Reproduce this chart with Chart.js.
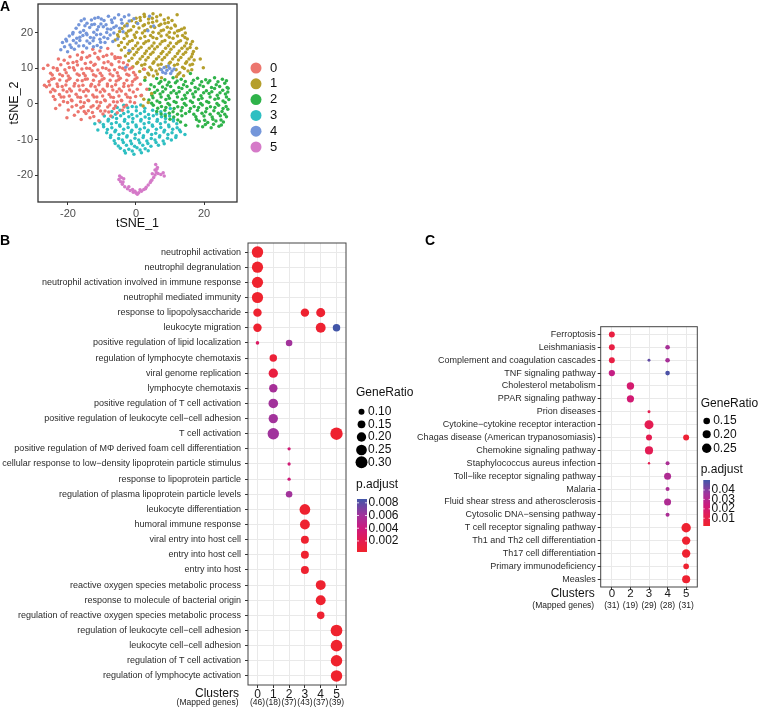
<!DOCTYPE html>
<html>
<head>
<meta charset="utf-8">
<script src="https://cdn.jsdelivr.net/npm/chart.js@4.4.1/dist/chart.umd.min.js"></script>
<style>
  html, body { margin: 0; padding: 0; background: #fff; width: 758px; height: 711px; overflow: hidden; position: relative; }
  canvas { position: absolute; }
</style>
</head>
<body>
<canvas id="tsne" width="300" height="232" style="left:0;top:0"></canvas>
<canvas id="goPlot" width="420" height="479" style="left:0;top:232px"></canvas>
<canvas id="keggPlot" width="348" height="479" style="left:410px;top:232px"></canvas>
<script>
// ---------- A: tSNE, points, one string per cluster ----------
const tsneGroups = ['0', '1', '2', '3', '4', '5'];
const tsneXTicks = [-20, 0, 20];
const tsneYTicks = [-20, -10, 0, 10, 20];
const tsne0 = `-17.2,13.7 -14.4,13.1 -12.1,14.2 -9.6,13.3 -7.1,14 -5.3,13 -15.7,14.5 -10.6,14.8 -19.4,13.2
-21.1,12.2 -18.5,11.6 -16.1,12.5 -13.3,11.7 -10.9,12.6 -8.2,11.8 -6.1,12.7 -3.7,11.5 -4.6,12.9
-24.3,10.1 -22.1,11 -19.6,10.2 -17.2,10.9 -14.5,10 -12.4,10.8 -9.8,10.1 -7.1,11 -4.8,10.3 -2.5,10.9 -1.2,10.1
-25.1,8.6 -23.1,9.4 -20.5,8.7 -18.1,9.5 -15.4,8.5 -12.9,9.3 -10.5,8.6 -7.9,9.4 -5.5,8.7 -3.2,9.5 -0.7,8.8
-24.1,7.1 -21.6,7.9 -19.4,7.2 -16.7,8 -14.3,7 -11.8,7.8 -9.4,7.1 -6.8,7.9 -4.6,7.2 -2.1,8 0.3,7.3
-25.6,6.3 -23.2,5.6 -20.4,6.4 -18,5.7 -15.8,6.5 -13.1,5.5 -10.7,6.3 -8.4,5.6 -5.8,6.4 -3.5,5.7 -1,6.3 1.3,5.5
-26.3,4.8 -24.4,4.1 -21.7,4.9 -19.5,4.2 -16.8,5 -14.6,4 -12,4.8 -9.7,4.1 -7.1,4.9 -4.9,4.2 -2.2,5
-25.1,3.3 -22.5,2.6 -20.3,3.4 -17.6,2.7 -15.4,3.5 -12.7,2.5 -10.5,3.3 -7.9,2.6 -5.6,3.4 -3,2.7 -0.8,3.3 1.6,2.4
-23.8,1.2 -21.2,1.9 -19,1.1 -16.3,1.8 -14.1,1 -11.5,1.9 -9.2,1.1 -6.6,1.8 -4.3,1 -1.7,1.7
-22.4,-0.3 -20.1,0.4 -17.5,-0.4 -15.2,0.3 -12.6,-0.5 -10.4,0.4 -7.7,-0.3 -5.5,0.5 -2.8,-0.4 -0.4,0.3
-19.9,-1.7 -16.2,-1.1 -14,-1.9 -11.3,-1.2 -9.1,-2 -6.5,-1.3 -4,-1.8
-18.1,-3.2 -14.7,-2.7 -12.4,-3.5 -9.7,-2.8 -7.4,-3.4 -16.1,-4.4 -10.9,-4.7
-27.2,9.9 -26.9,5.2 -23.6,-1.3 -20.3,-3.9 -12.7,15.3 -8.3,15.5 2.5,9.7 3.2,4.1 -22.8,12.6 -25.9,10.8
-16,12.9 -13.6,13.5 -11.2,13 -8.6,13.6 -6.2,13.2 -20,11.4 -17.4,11.9 -14.9,11.3 -12,11.1 -9.4,11.5 -7.3,11.2 -5,11.8
-23.2,9.9 -20.9,9.6 -18.4,10.1 -15.9,9.8 -13.6,9.9 -11.2,9.5 -8.8,9.9 -6.3,9.6 -3.9,10 -1.9,9.8
-24.6,8.1 -22.4,8.3 -19.9,7.8 -17.3,8.4 -14.9,7.9 -12.5,8.2 -10,7.9 -7.6,8.4 -5.2,7.8 -2.7,8.3 -0.2,8.1
-24.8,6.9 -22.4,6.7 -19.7,6.9 -17.2,6.6 -14.9,6.9 -12.5,6.6 -10,6.8 -7.6,6.6 -5.1,6.8 -2.7,6.6 -0.3,6.9
-25.4,5.3 -23,4.9 -20.6,5.3 -18.2,5 -15.6,5.2 -13.3,5 -10.9,5.4 -8.4,5 -6,5.4 -3.6,4.9 -1.2,5.3
-23.8,3.7 -21.4,3.9 -19,3.6 -16.5,3.9 -14,3.6 -11.6,3.9 -9.2,3.6 -6.8,3.9 -4.3,3.6 -1.9,3.9 0.4,4.1
-24.3,2.1 -22,1.9 -19.6,2.2 -17.1,1.9 -14.7,2.2 -12.3,1.9 -9.8,2.2 -7.4,1.9 -5,2.2 -2.5,1.9 -0.1,2.1
-21.3,0.7 -18.8,0.9 -16.3,0.6 -13.9,0.9 -11.5,0.6 -9,0.9 -6.6,0.6 -4.2,0.9 -1.7,0.6
-18.8,-0.8 -15.5,-0.7 -13.2,-0.9 -10.8,-0.6 -8.3,-0.9 -6,-0.6 -3.5,-0.9
-17,-2.2 -15.2,-2.1 -12.8,-2.4 -10.4,-2 -8,-2.3 -5.5,-2.5 -13.5,-3.9`;
const tsne1 = `1.2,24.2 3.7,23.8 6.1,24.4 8.3,23.6 2.4,25.1 5,25.3
-2.6,22.4 0.1,22.8 2.5,22.2 4.9,22.9 7.3,22.3 9.5,22.8 11.4,22.1
-4.1,21.1 -1.5,20.7 0.9,21.3 3.3,20.8 5.5,21.4 8.1,20.7 10.3,21.2 12.7,20.6
-5.4,19.4 -2.9,19.8 -0.5,19.3 1.9,19.9 4.3,19.2 6.7,19.8 9.1,19.3 11.3,19.9 13.7,19.2
-6.1,17.9 -3.5,18.3 -1.1,17.8 1.3,18.4 3.7,17.7 6.1,18.3 8.5,17.8 10.9,18.4 13.1,17.7 15.1,18.2
-5.1,16.4 -2.5,16.8 -0.1,16.3 2.3,16.9 4.7,16.2 7.1,16.8 9.5,16.3 11.9,16.9 14.3,16.2 16.1,16.7
-4.3,15.1 -1.7,14.7 0.7,15.3 3.1,14.8 5.5,15.4 7.9,14.7 10.3,15.3 12.7,14.8 15.1,15.4 16.9,14.7
-3.1,13.4 -0.5,13.8 1.9,13.3 4.3,13.9 6.7,13.2 9.1,13.8 11.5,13.3 13.9,13.9 16.3,13.2
-2.1,12.1 0.5,11.7 2.9,12.3 5.3,11.8 7.7,12.4 10.1,11.7 12.5,12.3 14.9,11.8 17.1,12.3
-0.9,10.4 1.7,10.8 4.1,10.3 6.5,10.9 8.9,10.4 11.3,10.8 13.7,10.3 15.9,10.9
1.1,9.1 3.5,8.6 5.9,9.2 12.9,8.7 15.3,9.2
2.7,7.4 5.1,7.8 7.5,7.3 11.9,7.6
2.3,1.3 3.6,0.4 2.1,-0.6 4.6,2.9 1.5,2.3 19.8,10.1 18.9,12.6 12.1,25 14.2,21.3 17.8,15.6
0,24 2.5,24.5 4.8,24 7.2,24.9 9.5,24.1 -1.3,23.3 1.3,23.4 3.7,22.7 6.1,23.2 8.5,22.6 10.6,23.4
-3.3,21.8 -0.7,21.7 2.1,21.9 4.4,21.6 6.8,22 9.2,21.5 11.6,21.8 13.4,20.9
-4.8,20.3 -2.2,20.4 0.2,20.1 2.6,20.5 5,20.1 7.4,20.5 9.8,20.1 12.2,20.4 14.5,19.9
-5.2,18.8 -2.6,19 -0.2,18.6 2.6,18.9 5,18.6 7.4,19 9.8,18.7 12.2,19 14.4,18.6
-4.3,17.2 -1.9,17.5 0.5,17.1 2.9,17.4 5.3,17.1 7.7,17.5 10.1,17.1 12.5,17.4 14.8,17.1 16.6,17.5
-3.3,15.8 -0.9,15.5 1.5,15.9 3.9,15.6 6.3,16 8.7,15.6 11.1,16 13.5,15.6 15.9,15.8
-2.2,14.2 0.2,14.5 2.6,14.1 5,14.5 7.4,14.1 9.8,14.5 12.2,14.1 14.6,14.5 16.6,14
-1.2,12.8 1.2,12.6 3.6,13 6,12.6 8.4,13 10.8,12.6 13.2,13 15.6,12.6
0.2,11.3 2.6,11.1 5,11.4 7.4,11.1 9.8,11.4 12.2,11.1 14.6,11.4 16.6,11.1
2.2,9.8 4.6,9.6 7,9.8 11.8,9.6 14.2,9.9 16.4,9.6 3.8,8.2 6.3,8.4 12.4,8.3 14,7.9`;
const tsne2 = `6.1,7.1 8.5,6.8 10.9,7.3 13.3,6.9 18.1,7.2 20.5,6.8 23.1,7.3 25.4,6.9 16,8.5
4.4,5.4 6.8,5.8 9.2,5.3 11.6,5.9 14,5.4 16.4,5.8 18.8,5.3 21.2,5.9 23.6,5.4 26.1,5.8
3.9,4.1 6.3,3.8 8.7,4.2 11.1,3.7 13.5,4.3 15.9,3.8 18.3,4.2 20.7,3.7 23.1,4.3 25.5,3.8 27.1,4.4
4.7,2.4 7.1,2.8 9.5,2.3 11.9,2.9 14.3,2.4 16.7,2.8 19.1,2.3 21.5,2.9 23.9,2.4 26.3,2.8
3.8,1.1 6.2,0.8 8.8,1.2 11.2,0.7 13.6,1.3 16,0.8 18.4,1.2 20.8,0.7 23.2,1.3 25.6,0.8 27.3,1.2
5.1,-0.4 7.5,-0.7 9.9,-0.3 12.3,-0.8 14.7,-0.4 17.1,-0.7 19.5,-0.3 21.9,-0.8 24.3,-0.4 26.5,-0.7
6.1,-2.1 8.5,-1.8 10.9,-2.2 13.3,-1.9 15.7,-2.1 18.1,-1.8 20.5,-2.2 22.9,-1.9 25.3,-2.1
8.6,-3.4 11.1,-3.7 13.5,-3.3 17.6,-3.6 20,-3.4 22.4,-3.7 24.8,-3.3 26.6,-3.6
13.1,-5.1 18.6,-4.9 21.1,-5.2 23.5,-4.8 25.7,-5.1
19.6,-6.4 22.1,-6.7 24.4,-6.3 14.6,-6 2.6,6.6
7.3,6.3 9.7,6.1 12.1,6.4 14.5,6.3 16.9,6.6 19.3,6.2 21.7,6.5 24.1,6.2 26.6,6.5
5.4,4.8 7.8,4.7 10.2,4.9 12.6,4.6 15,4.9 17.4,4.6 19.8,4.9 22.2,4.6 24.6,4.9 26.8,4.6
5.5,3.2 7.9,3.4 10.3,3.1 12.7,3.4 15.1,3.1 17.5,3.4 19.9,3.1 22.3,3.4 24.7,3.1 27,3.3
5,1.7 7.4,1.9 9.8,1.6 12.2,1.9 14.6,1.6 17,1.9 19.4,1.6 21.8,1.9 24.2,1.6 26.6,1.9
4.6,0.2 7,0.4 9.4,0.1 11.8,0.4 14.2,0.1 16.6,0.4 19,0.1 21.4,0.4 23.8,0.1 26.2,0.4
6.4,-1.2 8.8,-1 11.2,-1.3 13.6,-1 16,-1.3 18.4,-1 20.8,-1.3 23.2,-1 25.6,-1.3 27,-1.5
7.4,-2.8 9.8,-2.6 12.2,-2.9 14.6,-2.7 17,-2.9 19.4,-2.6 21.8,-2.9 24.2,-2.6 26.1,-2.9
10,-4.3 12.3,-4.5 17.8,-4.4 20.2,-4.6 22.6,-4.3 25,-4.5 20.4,-5.8 22.8,-5.7 25.1,-5.9 18.2,-6.2`;
const tsne3 = `-3.6,-0.4 -1.1,-0.7 1.4,-0.3 -5.5,-1
-7.1,-2.1 -4.7,-1.8 -2.3,-2.2 0.1,-1.9 2.5,-2.1 4.9,-1.8 7.3,-2.2
-9.3,-3.4 -6.9,-3.7 -4.5,-3.3 -2.1,-3.6 0.3,-3.4 2.7,-3.7 5.1,-3.3 7.5,-3.6 9.9,-3.4
-10.6,-5.1 -8.2,-4.8 -5.8,-5.2 -3.4,-4.9 -1,-5.1 1.4,-4.8 3.8,-5.2 6.2,-4.9 8.6,-5.1 11,-4.8
-9.5,-6.4 -7.1,-6.7 -4.7,-6.3 -2.3,-6.6 0.1,-6.4 2.5,-6.7 4.9,-6.3 7.3,-6.6 9.7,-6.4 12.1,-6.7
-8.6,-8.1 -6.2,-7.8 -3.8,-8.2 -1.4,-7.9 1,-8.1 3.4,-7.8 5.8,-8.2 8.2,-7.9 10.6,-8.1 13.1,-7.8
-7.5,-9.4 -5.1,-9.7 -2.7,-9.3 -0.3,-9.6 2.1,-9.4 4.5,-9.7 6.9,-9.3 9.3,-9.6 11.7,-9.4
-6.1,-11.1 -3.7,-10.8 -1.3,-11.2 1.1,-10.9 3.5,-11.1 5.9,-10.8 8.3,-11.2
-4.6,-12.4 -2.1,-12.7 0.3,-12.3 2.7,-12.6
-3.1,-13.8 -0.6,-14.1 1.6,-13.7
-12.1,-5.6 14.4,-8.6 10.1,-1.3 -11.2,-7.3
-2.4,-1.1 0.1,-0.9 2.6,-1.2 -6,-2.9 -3.6,-2.7 -1.2,-3 1.3,-2.7 3.7,-3 6.1,-2.8 8.6,-2.9
-8.1,-4.3 -5.7,-4.1 -3.3,-4.4 -0.9,-4.1 1.5,-4.4 3.9,-4.1 6.3,-4.4 8.7,-4.1 11,-4.3
-9.6,-5.8 -7.2,-5.6 -4.8,-5.9 -2.4,-5.6 0,-5.9 2.4,-5.6 4.8,-5.9 7.2,-5.6 9.6,-5.9 12,-5.6
-8.4,-7.2 -6,-7.4 -3.6,-7.1 -1.2,-7.4 1.2,-7.1 3.6,-7.4 6,-7.1 8.4,-7.4 10.8,-7.1 12.8,-7.3
-7.4,-8.8 -5,-8.6 -2.6,-8.9 -0.2,-8.6 2.2,-8.9 4.6,-8.6 7,-8.9 9.4,-8.6 11.8,-8.9
-6.4,-10.3 -4,-10.1 -1.6,-10.4 0.8,-10.1 3.2,-10.4 5.6,-10.1 8,-10.4 10.4,-10.1
-5.2,-11.8 -2.8,-11.6 -0.4,-11.9 2,-11.6 4.4,-11.9 6.6,-11.6 -3.4,-13.1 -1.1,-13.2 1.2,-12.9 3.6,-13.1`;
const tsne4 = `-16.1,23.3 -14.4,22.6 -13.1,23.5 -11.1,24.2 -9.4,23.4 -8.1,24.6 -6.3,24.1 -5.1,25 -3.4,24.4 -2.1,24.9 -0.6,23.9
-17.6,21.2 -15.4,20.6 -13.6,21.4 -11.4,20.8 -9.6,21.6 -7.4,20.9 -5.8,21.8 -4.1,22.6 -2.6,21.9
-19.6,19 -17.4,18.4 -15.6,19.2 -13.4,18.6 -11.6,19.4 -9.4,18.7 -7.6,19.3 -5.4,18.2
-21.6,17.2 -19.4,16.5 -17.6,17.1 -15.4,16.3 -13.6,17 -11.4,16.4 -9.1,17.2
-22.1,15.2 -20.1,14.6 -18.1,15.3
-16.8,22.2 -12.2,22.3 -10.3,22.4 -7,22.8 -8.6,20 -14.6,19.8 -18.5,20 -20.6,18.1 -16.5,17.8 -12.6,17.7
-10.6,18.1 -6.8,17.5 -3.8,20.2 -2,23.2 0.5,22.5 4,24.6 5.2,21.8 3.5,20.5
7.5,9.6 8.3,10.2 9.1,9.4 9.9,10 10.6,9.2 8.7,8.6 7.9,8.9 10.2,8.5 9.5,10.6 11.2,9.8
-3,10.3 -2,15
-15.2,23.8 -12.1,24 -10.2,23.8 -7.2,23.5 -4.3,23.6 -15,21.9 -13,22.2 -11,21.6 -8.8,22.2 -6.5,21.4 -4.8,21.2
-18.6,19.6 -16.4,20.1 -14.4,19.4 -12.4,20.1 -10.4,19.5 -8.4,21 -6.5,19.9
-20.4,17.6 -18.4,17.8 -16.5,18.7 -14.4,17.6 -12.4,18.5 -10.4,17.3 -8.3,18.3
-21,16 -19,15.8 -16.8,16.2 -14.5,15.7 -12.5,16 -10.3,15.8`;
const tsne5 = `-5,-21.2 -4.5,-21.8 -4,-22.5 -3.3,-23.2 -2.5,-23.8 -1.7,-24.3 -0.8,-24.8 0,-25 0.8,-24.9
1.6,-24.5 2.3,-24 3,-23.4 3.6,-22.7 4.2,-22 4.7,-21.3 5.2,-20.6 5.6,-19.9 6,-19.2 5.6,-18.5
6.3,-17.8 5.8,-17 6.5,-19.5 7.3,-19.8 8,-19.3 8.3,-20.2 4.8,-19.6 -4.3,-20.6 -3.6,-21 -1,-24
1.2,-24.1 -2.1,-23.2 -4.8,-20.2 -3.8,-21.9 -0.3,-24.5 0.4,-25.3 2.8,-23.8 4.4,-21.6 6.1,-18.3`;
const tsnePoints = [tsne0, tsne1, tsne2, tsne3, tsne4, tsne5];

// ---------- B: GO terms per cluster ----------
const goTerms = [
  'neutrophil activation',
  'neutrophil degranulation',
  'neutrophil activation involved in immune response',
  'neutrophil mediated immunity',
  'response to lipopolysaccharide',
  'leukocyte migration',
  'positive regulation of lipid localization',
  'regulation of lymphocyte chemotaxis',
  'viral genome replication',
  'lymphocyte chemotaxis',
  'positive regulation of T cell activation',
  'positive regulation of leukocyte cell\u2212cell adhesion',
  'T cell activation',
  'positive regulation of M\u03a6 derived foam cell differentiation',
  'cellular response to low\u2212density lipoprotein particle stimulus',
  'response to lipoprotein particle',
  'regulation of plasma lipoprotein particle levels',
  'leukocyte differentiation',
  'humoral immune response',
  'viral entry into host cell',
  'entry into host cell',
  'entry into host',
  'reactive oxygen species metabolic process',
  'response to molecule of bacterial origin',
  'regulation of reactive oxygen species metabolic process',
  'regulation of leukocyte cell\u2212cell adhesion',
  'leukocyte cell\u2212cell adhesion',
  'regulation of T cell activation',
  'regulation of lymphocyte activation'
];
const goClusters = ['0', '1', '2', '3', '4', '5'];
const goMapped = ['(46)', '(18)', '(37)', '(43)', '(37)', '(39)'];
// [term index, cluster index, GeneRatio, p.adjust]
const goDots = [
  [0, 0, 0.28, 0.0003], [1, 0, 0.27, 0.0003], [2, 0, 0.27, 0.0003], [3, 0, 0.27, 0.0003],
  [4, 0, 0.17, 0.0004], [4, 3, 0.17, 0.0004], [4, 4, 0.19, 0.0005],
  [5, 0, 0.17, 0.0004], [5, 4, 0.22, 0.0005], [5, 5, 0.14, 0.0086],
  [6, 0, 0.05, 0.0028], [6, 2, 0.115, 0.0060],
  [7, 1, 0.14, 0.0008], [8, 1, 0.20, 0.0012], [9, 1, 0.17, 0.0058],
  [10, 1, 0.21, 0.0060], [11, 1, 0.20, 0.0060],
  [12, 1, 0.28, 0.0061], [12, 5, 0.32, 0.0004],
  [13, 2, 0.045, 0.0036], [14, 2, 0.045, 0.0036], [15, 2, 0.045, 0.0038], [16, 2, 0.115, 0.0060],
  [17, 3, 0.25, 0.0004], [18, 3, 0.22, 0.0004], [19, 3, 0.155, 0.0004], [20, 3, 0.155, 0.0004], [21, 3, 0.155, 0.0004],
  [22, 4, 0.22, 0.0004], [23, 4, 0.22, 0.0004], [24, 4, 0.143, 0.0005],
  [25, 5, 0.29, 0.0003], [26, 5, 0.29, 0.0003], [27, 5, 0.28, 0.0003], [28, 5, 0.28, 0.0003]
];
const goSizeBreaks = [0.10, 0.15, 0.20, 0.25, 0.30];
const goColorBreaks = [0.008, 0.006, 0.004, 0.002];

// ---------- C: KEGG pathways per cluster ----------
const keggTerms = [
  'Ferroptosis',
  'Leishmaniasis',
  'Complement and coagulation cascades',
  'TNF signaling pathway',
  'Cholesterol metabolism',
  'PPAR signaling pathway',
  'Prion diseases',
  'Cytokine\u2212cytokine receptor interaction',
  'Chagas disease (American trypanosomiasis)',
  'Chemokine signaling pathway',
  'Staphylococcus aureus infection',
  'Toll\u2212like receptor signaling pathway',
  'Malaria',
  'Fluid shear stress and atherosclerosis',
  'Cytosolic DNA\u2212sensing pathway',
  'T cell receptor signaling pathway',
  'Th1 and Th2 cell differentiation',
  'Th17 cell differentiation',
  'Primary immunodeficiency',
  'Measles'
];
const keggClusters = ['0', '2', '3', '4', '5'];
const keggMapped = ['(31)', '(19)', '(29)', '(28)', '(31)'];
// [term index, cluster index, GeneRatio, p.adjust]
const keggDots = [
  [0, 0, 0.13, 0.0077],
  [1, 0, 0.13, 0.0085], [1, 3, 0.094, 0.034],
  [2, 0, 0.13, 0.0085], [2, 2, 0.058, 0.046], [2, 3, 0.094, 0.034],
  [3, 0, 0.14, 0.026], [3, 3, 0.094, 0.049],
  [4, 1, 0.176, 0.020], [5, 1, 0.17, 0.021],
  [6, 2, 0.058, 0.0116],
  [7, 2, 0.234, 0.0125],
  [8, 2, 0.132, 0.012], [8, 4, 0.132, 0.004],
  [9, 2, 0.20, 0.013],
  [10, 2, 0.047, 0.012], [10, 3, 0.08, 0.033],
  [11, 3, 0.163, 0.032], [12, 3, 0.08, 0.033], [13, 3, 0.163, 0.032], [14, 3, 0.08, 0.033],
  [15, 4, 0.25, 0.003], [16, 4, 0.21, 0.003], [17, 4, 0.21, 0.003], [18, 4, 0.12, 0.003], [19, 4, 0.20, 0.003]
];
const keggSizeBreaks = [0.15, 0.20, 0.25];
const keggColorBreaks = [0.04, 0.03, 0.02, 0.01];

// ---------- styling ----------
Chart.defaults.font.family = "'Liberation Sans', Arial, Helvetica, sans-serif";
Chart.defaults.color = '#333';
const FONT = "'Liberation Sans', Arial, Helvetica, sans-serif";
const tsneColors = ['#ec766e', '#b59f2c', '#2fb34a', '#2ebfc2', '#7496da', '#d57ac8'];

// red -> magenta -> purple -> blue, like the p.adjust bar
const gradStops = [
  [0, [239, 35, 45]],
  [0.22, [228, 28, 82]],
  [0.45, [204, 26, 126]],
  [0.7, [160, 52, 156]],
  [1, [66, 86, 168]]
];
function gradColor(t) {
  t = Math.max(0, Math.min(1, t));
  for (let i = 1; i < gradStops.length; i++) {
    const [t0, c0] = gradStops[i - 1];
    const [t1, c1] = gradStops[i];
    if (t <= t1) {
      const f = (t - t0) / (t1 - t0);
      return 'rgb(' + c0.map((v, k) => Math.round(v + (c1[k] - v) * f)).join(',') + ')';
    }
  }
  return 'rgb(66,86,168)';
}

function parsePts(s) {
  return s.trim().split(/\s+/).map(p => {
    const [x, y] = p.split(',').map(Number);
    return { x, y };
  });
}

function text(ctx, str, x, y, size, opts = {}) {
  ctx.save();
  ctx.font = (opts.bold ? 'bold ' : '') + size + 'px ' + FONT;
  ctx.fillStyle = opts.color || '#111';
  ctx.textAlign = opts.align || 'left';
  ctx.textBaseline = 'middle';
  ctx.fillText(str, x, y);
  ctx.restore();
}

function frame(chart, color, width) {
  const { ctx, chartArea: a } = chart;
  ctx.save();
  ctx.strokeStyle = color;
  ctx.lineWidth = width;
  ctx.strokeRect(a.left, a.top, a.right - a.left, a.bottom - a.top);
  ctx.restore();
}

// ---------- A ----------
new Chart(document.getElementById('tsne'), {
  type: 'scatter',
  data: {
    datasets: tsnePoints.map((s, i) => ({
      label: tsneGroups[i],
      data: parsePts(s),
      backgroundColor: tsneColors[i],
      pointRadius: 1.75,
      borderWidth: 0,
      order: i === 4 ? 0 : 1
    }))
  },
  options: {
    responsive: false,
    animation: false,
    events: [],
    layout: { padding: { top: 2, right: 63, left: 0, bottom: 0 } },
    plugins: { legend: { display: false }, tooltip: { enabled: false } },
    scales: {
      x: {
        type: 'linear', min: -28.8, max: 29.7,
        afterBuildTicks: s => { s.ticks = tsneXTicks.map(v => ({ value: v })); },
        afterFit: s => { s.height = 30; s.paddingLeft = 0; s.paddingRight = 0; },
        grid: { drawOnChartArea: false, tickLength: 3, tickColor: '#333' },
        border: { display: false },
        ticks: { color: '#4d4d4d', font: { size: 11 }, padding: 2, maxRotation: 0, autoSkip: false },
        title: { display: true, text: 'tSNE_1', color: '#111', font: { size: 12.5 }, padding: { top: 0, bottom: 1 } }
      },
      y: {
        type: 'linear', min: -27.5, max: 28,
        afterBuildTicks: s => { s.ticks = tsneYTicks.map(v => ({ value: v })); },
        afterFit: s => { s.width = 38; s.paddingTop = 0; s.paddingBottom = 0; },
        grid: { drawOnChartArea: false, tickLength: 3, tickColor: '#333' },
        border: { display: false },
        ticks: { color: '#4d4d4d', font: { size: 11 }, padding: 2, autoSkip: false },
        title: { display: true, text: 'tSNE_2', color: '#111', font: { size: 12.5 }, padding: { top: 7, bottom: 0 } }
      }
    }
  },
  plugins: [{
    id: 'tsneDecor',
    afterDatasetsDraw(chart) {
      frame(chart, '#333', 1.3);
      const { ctx } = chart;
      text(ctx, 'A', 0, 7, 14, { bold: true, color: '#000' });
      tsneGroups.forEach((g, i) => {
        const y = 68 + i * 15.8;
        ctx.beginPath();
        ctx.arc(256, y, 5.5, 0, Math.PI * 2);
        ctx.fillStyle = tsneColors[i];
        ctx.fill();
        text(ctx, g, 270, y, 13);
      });
    }
  }]
});

// ---------- B and C: dot plots ----------
function dotPlot(id, o) {
  const n = o.terms.length;
  const m = o.clusters.length;
  const tOf = p => (p - o.pLow) / (o.pHigh - o.pLow);
  const rOf = g => Math.max(1, o.rA * Math.sqrt(g) + o.rB);
  const idxTicks = count => s => { s.ticks = Array.from({ length: count }, (_, i) => ({ value: i })); };
  const points = o.dots.map(d => ({ x: d[1], y: d[0], ratio: d[2], p: d[3] }));

  new Chart(document.getElementById(id), {
    type: 'scatter',
    data: {
      datasets: [{
        data: points,
        pointRadius: ctx => rOf(ctx.raw.ratio),
        pointBackgroundColor: ctx => gradColor(tOf(ctx.raw.p)),
        pointBorderWidth: 0
      }]
    },
    options: {
      responsive: false,
      animation: false,
      events: [],
      layout: { padding: o.padding },
      plugins: { legend: { display: false }, tooltip: { enabled: false } },
      scales: {
        x: {
          type: 'linear', min: -0.6, max: m - 0.4, weight: 0,
          afterBuildTicks: idxTicks(m),
          afterFit: s => { s.height = o.xH; s.paddingLeft = 0; s.paddingRight = 0; },
          grid: { color: '#e9e9e9', lineWidth: 1, tickLength: 3, tickColor: '#333' },
          border: { display: false },
          ticks: { autoSkip: false, maxRotation: 0, padding: o.xPad, color: '#1a1a1a', font: { size: o.xFont }, callback: v => o.clusters[v] }
        },
        x2: {
          type: 'linear', position: 'bottom', min: -0.6, max: m - 0.4, weight: 1,
          afterBuildTicks: idxTicks(m),
          afterFit: s => { s.height = o.x2H; s.paddingLeft = 0; s.paddingRight = 0; },
          grid: { display: false, drawTicks: false },
          border: { display: false },
          ticks: { autoSkip: false, maxRotation: 0, padding: 0, color: '#1a1a1a', font: { size: 8.5 }, callback: v => o.mapped[v] }
        },
        y: {
          type: 'linear', reverse: true, min: -0.6, max: n - 0.4,
          afterBuildTicks: idxTicks(n),
          afterFit: s => { s.width = o.yW; s.paddingTop = 0; s.paddingBottom = 0; },
          grid: { color: '#e9e9e9', lineWidth: 1, tickLength: 3, tickColor: '#333' },
          border: { display: false },
          ticks: { autoSkip: false, padding: o.yPad, color: '#2b2b2b', font: { size: 9 }, callback: v => o.terms[v] }
        }
      }
    },
    plugins: [{
      id: 'dotDecor',
      afterDatasetsDraw(chart) {
        const { ctx, chartArea: a } = chart;
        frame(chart, '#444', 1);
        text(ctx, o.letter, o.letterX, 9, 14, { bold: true, color: '#000' });
        text(ctx, 'Clusters', a.left - o.capGap, a.bottom + o.capDy, 12, { align: 'right' });
        text(ctx, '(Mapped genes)', a.left - o.capGap - 0.5, a.bottom + o.mapDy, 8.5, { align: 'right', color: '#222' });

        const L = o.legend;
        text(ctx, 'GeneRatio', L.x, L.titleY, 12);
        o.sizeBreaks.forEach((g, i) => {
          const y = L.sizeY[i];
          ctx.beginPath();
          ctx.arc(L.dotX, y, rOf(g), 0, Math.PI * 2);
          ctx.fillStyle = '#000';
          ctx.fill();
          text(ctx, g.toFixed(2), L.dotX + 6.5, y, 12);
        });
        text(ctx, 'p.adjust', L.x, L.pTitleY, 12);
        const top = L.barTop, bot = L.barBottom;
        for (let y = top; y < bot; y++) {
          ctx.fillStyle = gradColor((bot - y - 0.5) / (bot - top));
          ctx.fillRect(L.barX, y, L.barW, 1);
        }
        o.colorBreaks.forEach(p => {
          const y = bot - tOf(p) * (bot - top);
          ctx.strokeStyle = '#fff';
          ctx.lineWidth = 0.8;
          ctx.beginPath();
          ctx.moveTo(L.barX, y); ctx.lineTo(L.barX + L.barW * 0.2, y);
          ctx.moveTo(L.barX + L.barW * 0.8, y); ctx.lineTo(L.barX + L.barW, y);
          ctx.stroke();
          text(ctx, String(p), L.barX + L.barW + 1.5, y, 12);
        });
      }
    }]
  });
}

dotPlot('goPlot', {
  terms: goTerms, clusters: goClusters, mapped: goMapped, dots: goDots,
  sizeBreaks: goSizeBreaks, colorBreaks: goColorBreaks,
  pLow: 0.00026, pHigh: 0.0086, rA: 12.9, rB: -1.1,
  padding: { top: 11, right: 74, left: 0, bottom: 0 },
  yW: 248, yPad: 4, xH: 13, x2H: 13, xPad: -1, xFont: 12,
  letter: 'B', letterX: 0, capGap: 9, capDy: 9, mapDy: 18,
  legend: {
    x: 356, titleY: 161, dotX: 361.5, sizeY: [179.7, 192.3, 205, 218, 230.3],
    pTitleY: 253, barX: 357, barW: 10, barTop: 267, barBottom: 320
  }
});

dotPlot('keggPlot', {
  terms: keggTerms, clusters: keggClusters, mapped: keggMapped, dots: keggDots,
  sizeBreaks: keggSizeBreaks, colorBreaks: keggColorBreaks,
  pLow: 0.0018, pHigh: 0.0506, rA: 12.4, rB: -1.5,
  padding: { top: 94.7, right: 60.7, left: 0, bottom: 99 },
  yW: 190.7, yPad: 2, xH: 13.5, x2H: 11.5, xPad: -3, xFont: 11.5,
  letter: 'C', letterX: 15, capGap: 6, capDy: 7, mapDy: 18.5,
  legend: {
    x: 290.7, titleY: 171.3, dotX: 296.7, sizeY: [189, 202.3, 216.3],
    pTitleY: 237.3, barX: 293.3, barW: 6.7, barTop: 248, barBottom: 294
  }
});
</script>
</body>
</html>
